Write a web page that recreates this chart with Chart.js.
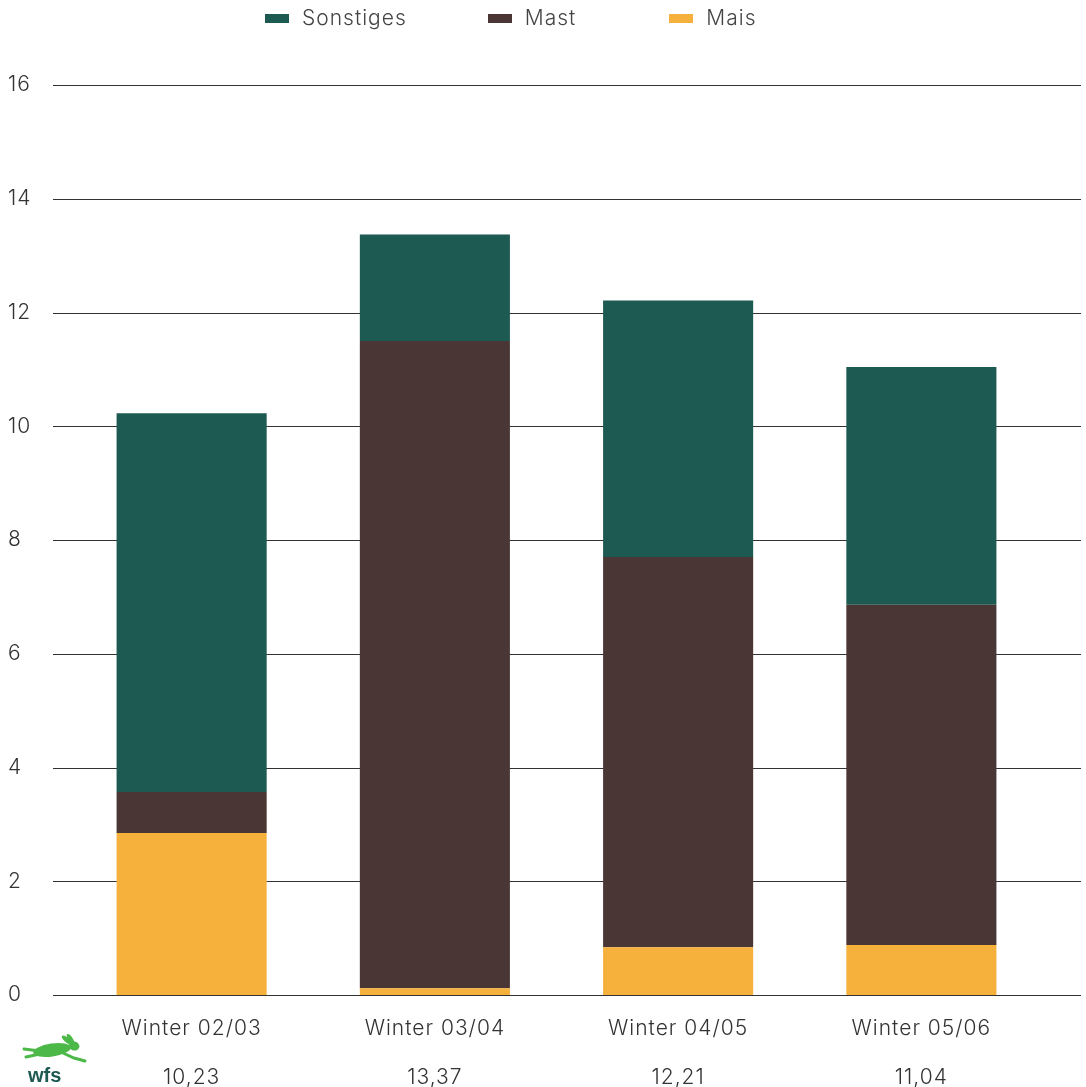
<!DOCTYPE html>
<html>
<head>
<meta charset="utf-8">
<script src="https://cdn.jsdelivr.net/npm/chart.js@4"></script>
<style>
  html, body { margin: 0; padding: 0; background: #fff; overflow: hidden; }
  #wrap { position: relative; width: 1086px; height: 1087px; }
  #legend { position: absolute; top: 6px; left: 265px; display: flex; font-family: Inter, sans-serif; font-weight: 300; font-size: 21px; letter-spacing: 1px; color: #444; }
  #legend .item { display: flex; align-items: center; line-height: 24px; }
  #legend .item:nth-child(1) { margin-right: 81px; }
  #legend .item:nth-child(2) { margin-right: 93px; }
  #legend .box { width: 24px; height: 9px; margin-right: 13px; }
</style>
</head>
<body>
<div id="wrap">
  <div id="legend"></div>
  <canvas id="myChart" width="1086" height="1087"></canvas>
</div>
<script>
const categories = ['Winter 02/03', 'Winter 03/04', 'Winter 04/05', 'Winter 05/06'];
const totals = ['10,23', '13,37', '12,21', '11,04'];
const mais = [2.85, 0.12, 0.84, 0.88];
const mast = [0.72, 11.38, 6.86, 5.98];
const sonstiges = [6.66, 1.87, 4.51, 4.18];

const FONT = 'Inter, sans-serif';

// wider letters, closer to the original typeface
const spacing = {
  id: 'spacing',
  beforeInit(chart) { chart.ctx.letterSpacing = '1px'; },
  beforeUpdate(chart) { chart.ctx.letterSpacing = '1px'; },
  beforeDraw(chart) { chart.ctx.letterSpacing = '1px'; }
};

// grid lines run wider than the plot area
const wideGrid = {
  id: 'wideGrid',
  beforeDatasetsDraw(chart) {
    const y = chart.scales.y;
    const c = chart.ctx;
    c.save();
    c.strokeStyle = '#333';
    c.lineWidth = 1;
    y.ticks.forEach(t => {
      const py = Math.round(y.getPixelForValue(t.value)) + 0.5;
      c.beginPath();
      c.moveTo(53, py);
      c.lineTo(1081, py);
      c.stroke();
    });
    c.restore();
  }
};

// wfs logo bottom left
const logo = {
  id: 'logo',
  afterDraw(chart) {
    const c = chart.ctx;
    c.save();
    c.letterSpacing = '0px';
    c.fillStyle = '#4cb848';
    c.beginPath();
    c.ellipse(52, 1050, 19, 6.5, -0.15, 0, Math.PI * 2);
    c.fill();
    c.beginPath();
    c.ellipse(74, 1046, 5.5, 4.5, 0.2, 0, Math.PI * 2);
    c.fill();
    c.beginPath();
    c.ellipse(67, 1040, 2.4, 6.5, -0.9, 0, Math.PI * 2);
    c.fill();
    c.beginPath();
    c.ellipse(70.5, 1039, 2.2, 6, -0.6, 0, Math.PI * 2);
    c.fill();
    c.lineWidth = 3;
    c.lineCap = 'round';
    c.strokeStyle = '#4cb848';
    c.beginPath();
    c.moveTo(40, 1051); c.lineTo(24, 1049);
    c.moveTo(40, 1054); c.lineTo(26, 1057);
    c.moveTo(63, 1053); c.lineTo(74, 1058); c.lineTo(85, 1061);
    c.stroke();
    c.fillStyle = '#1d5a52';
    c.font = 'bold 20px "Liberation Sans", sans-serif';
    c.textBaseline = 'alphabetic';
    c.fillText('wfs', 28, 1082);
    c.restore();
  }
};

const datasets = [
  { label: 'Mais', data: mais, backgroundColor: '#f5b13c' },
  { label: 'Mast', data: mast, backgroundColor: '#4a3735' },
  { label: 'Sonstiges', data: sonstiges, backgroundColor: '#1d5a52' }
];

const legendEl = document.getElementById('legend');
datasets.slice().reverse().forEach(ds => {
  const item = document.createElement('div');
  item.className = 'item';
  item.innerHTML = '<span class="box" style="background:' + ds.backgroundColor + '"></span><span>' + ds.label + '</span>';
  legendEl.appendChild(item);
});

const ctx = document.getElementById('myChart');
new Chart(ctx, {
  type: 'bar',
  data: {
    labels: categories.map((c, i) => [c, totals[i]]),
    datasets: datasets.map(d => Object.assign({ barPercentage: 0.617, categoryPercentage: 1, borderWidth: 0 }, d))
  },
  options: {
    responsive: false,
    animation: false,
    layout: { padding: { left: 8, right: 43, top: 85, bottom: 0 } },
    plugins: { legend: { display: false }, tooltip: { enabled: false } },
    scales: {
      x: {
        stacked: true,
        grid: { display: false },
        border: { display: false },
        ticks: { color: '#333', padding: 2, font: { family: FONT, size: 21, weight: 300, lineHeight: 2.3 } },
        afterFit(scale) { scale.height = 92; }
      },
      y: {
        stacked: true,
        min: 0,
        max: 16,
        grid: { display: false },
        border: { display: false },
        ticks: { stepSize: 2, crossAlign: 'far', color: '#333', font: { family: FONT, size: 21, weight: 300 } },
        afterFit(scale) { scale.width = 62; }
      }
    }
  },
  plugins: [spacing, wideGrid, logo]
});
</script>
</body>
</html>
